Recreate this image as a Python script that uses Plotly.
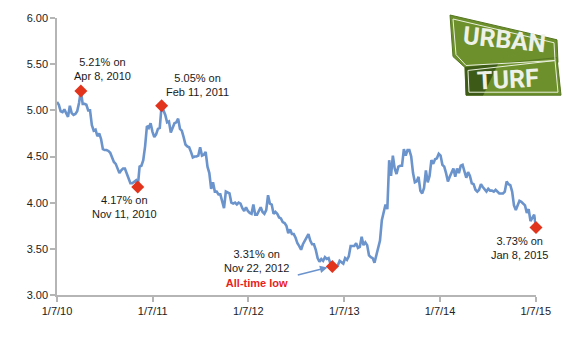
import pandas as pd
import plotly.graph_objects as go

# ---------------- data (weekly 30-year fixed mortgage rate, %) ----------------
start_date = "2010-01-07"
rates_2010 = [5.09, 5.06, 4.99, 4.98, 5.01, 4.97, 4.93, 5.05, 4.97, 4.95, 4.96, 4.99,
              5.08, 5.21, 5.07, 5.07, 5.06, 5.00, 5.00, 4.84, 4.78, 4.79, 4.72, 4.75,
              4.69, 4.58, 4.57, 4.57, 4.56, 4.54, 4.49, 4.44, 4.42, 4.36, 4.32, 4.35,
              4.37, 4.37, 4.32, 4.27, 4.21, 4.21, 4.23, 4.24, 4.17, 4.39, 4.40, 4.46,
              4.61, 4.83, 4.81, 4.86]
rates_2011 = [4.77, 4.71, 4.74, 4.80, 4.81, 5.05, 5.00, 4.95, 4.87, 4.88, 4.76, 4.81,
              4.86, 4.87, 4.91, 4.80, 4.78, 4.71, 4.63, 4.61, 4.60, 4.55, 4.49, 4.50,
              4.50, 4.51, 4.60, 4.51, 4.52, 4.55, 4.39, 4.32, 4.15, 4.22, 4.12, 4.12,
              4.09, 4.09, 4.01, 3.94, 4.12, 4.11, 4.10, 4.00, 3.99, 4.00, 3.98, 4.00,
              3.99, 3.94, 3.91, 3.95]
rates_2012 = [3.91, 3.89, 3.88, 3.98, 3.87, 3.87, 3.92, 3.95, 3.90, 3.88, 3.92, 4.08,
              3.99, 3.98, 3.88, 3.90, 3.88, 3.84, 3.83, 3.79, 3.78, 3.75, 3.67, 3.71,
              3.66, 3.66, 3.62, 3.56, 3.53, 3.49, 3.55, 3.59, 3.62, 3.66, 3.59, 3.55,
              3.55, 3.49, 3.40, 3.36, 3.39, 3.37, 3.41, 3.39, 3.40, 3.34, 3.31, 3.32,
              3.31, 3.32, 3.37, 3.35]
rates_2013 = [3.34, 3.40, 3.38, 3.42, 3.53, 3.53, 3.53, 3.56, 3.51, 3.52, 3.63, 3.54,
              3.57, 3.54, 3.43, 3.41, 3.40, 3.35, 3.42, 3.51, 3.59, 3.81, 3.91, 3.98,
              3.93, 4.46, 4.29, 4.51, 4.37, 4.31, 4.39, 4.40, 4.40, 4.58, 4.51, 4.57,
              4.57, 4.50, 4.32, 4.22, 4.23, 4.28, 4.13, 4.10, 4.16, 4.35, 4.22, 4.29,
              4.46, 4.42, 4.47, 4.48]
rates_2014 = [4.53, 4.51, 4.41, 4.39, 4.32, 4.23, 4.28, 4.33, 4.37, 4.28, 4.37, 4.32,
              4.40, 4.41, 4.34, 4.27, 4.33, 4.29, 4.21, 4.20, 4.14, 4.12, 4.14, 4.20,
              4.17, 4.14, 4.12, 4.15, 4.13, 4.13, 4.12, 4.14, 4.12, 4.10, 4.10, 4.10,
              4.12, 4.23, 4.20, 4.19, 4.12, 3.97, 3.92, 3.98, 4.02, 4.01, 3.99, 3.97,
              3.89, 3.93, 3.80, 3.83]
rates_2015 = [3.87, 3.73]

highlight_dates = ["2010-04-08", "2010-11-11", "2011-02-10", "2012-11-22", "2015-01-08"]
highlight_labels = ["5.21% on<br>Apr 8, 2010",
                    "4.17% on<br>Nov 11, 2010",
                    "5.05% on<br>Feb 11, 2011",
                    "3.31% on<br>Nov 22, 2012<br><b><span style='color:#e8231b'>All-time low</span></b>",
                    "3.73% on<br>Jan 8, 2015"]

tick_dates = ["2010-01-07", "2011-01-07", "2012-01-07", "2013-01-07", "2014-01-07", "2015-01-07"]
tick_labels = ["1/7/10", "1/7/11", "1/7/12", "1/7/13", "1/7/14", "1/7/15"]
y_ticks = [3.0, 3.5, 4.0, 4.5, 5.0, 5.5, 6.0]

rates = rates_2010 + rates_2011 + rates_2012 + rates_2013 + rates_2014 + rates_2015
dates = pd.date_range(start_date, periods=len(rates), freq="7D")
series = pd.Series(rates, index=dates)
hl_x = pd.to_datetime(highlight_dates)
hl_y = [series[d] for d in hl_x]

LINE = "#6b93cc"
RED = "#e2341d"
FONT = "Liberation Sans, Arial, sans-serif"

fig = go.Figure()
fig.add_trace(go.Scatter(x=dates, y=rates, mode="lines",
                         line=dict(color=LINE, width=2.6), hoverinfo="skip"))
fig.add_trace(go.Scatter(x=hl_x, y=hl_y, mode="markers", cliponaxis=False,
                         marker=dict(symbol="diamond", size=10, color=RED,
                                     line=dict(width=0))))

# label placement (pixel offsets from each highlighted point)
label_pos = [  # xshift, yshift, yanchor
    (22, 7, "bottom"),
    (-13, -5, "top"),
    (36, 6, "bottom"),
    (-76, -2, "middle"),
    (-16, -5, "top"),
]
for x, y, txt, (xs, ys, ya) in zip(hl_x, hl_y, highlight_labels, label_pos):
    fig.add_annotation(x=x, y=y, xref="x", yref="y", text=txt, showarrow=False,
                       xshift=xs, yshift=ys, xanchor="center", yanchor=ya,
                       align="center", font=dict(family=FONT, size=11, color="#1a1a1a"))

# arrow pointing to all-time low
fig.add_annotation(x=hl_x[3], y=hl_y[3], xref="x", yref="y", text="",
                   showarrow=True, ax=-36, ay=9, standoff=5,
                   arrowhead=2, arrowsize=1, arrowwidth=1.5, arrowcolor=LINE)

# ---------------- logo (decoration) ----------------
L, R, T, B = 57, 536, 15, 295
def P(px, py):
    return (px - L) / (R - L), (B - py) / (B - T)

def path(pts):
    s = ""
    for i, (px, py) in enumerate(pts):
        x, y = P(px, py)
        s += ("M" if i == 0 else "L") + f"{x:.4f},{y:.4f} "
    return s + "Z"

GREEN = "#6d902c"
DARK = "#3d5b17"
top_sign = [(450, 12), (557, 37), (558, 60), (466, 66), (453, 54)]
low_sign = [(465, 65), (557, 55), (561, 93), (466, 93)]
dark_part = [(465, 65), (498, 61), (483, 93), (466, 93)]
top_inner = [(453, 16), (554, 40), (555, 58), (466, 63), (456, 52)]
low_inner = [(468, 68), (555, 58), (558, 90), (469, 90)]
for pts, fill, lc, lw in [(top_sign, GREEN, "#557522", 1),
                          (low_sign, GREEN, "#557522", 1),
                          (dark_part, DARK, DARK, 0.5),
                          (top_inner, "rgba(0,0,0,0)", "#e9efdc", 1),
                          (low_inner, "rgba(0,0,0,0)", "#e9efdc", 1)]:
    fig.add_shape(type="path", path=path(pts), xref="paper", yref="paper",
                  fillcolor=fill, line=dict(color=lc, width=lw), layer="above")

for txt, (cx, cy), ang in [("URBAN", (504, 37), 6), ("TURF", (508, 77), -3)]:
    x, y = P(cx, cy)
    fig.add_annotation(x=x, y=y, xref="paper", yref="paper", text=f"<b>{txt}</b>",
                       showarrow=False, textangle=ang, xanchor="center", yanchor="middle",
                       font=dict(family="Liberation Sans Narrow, Roboto, Arial, sans-serif",
                                 size=25, color="#eef1e8"))

axis_common = dict(showline=True, linecolor="#b5b5b5", linewidth=1.5, ticks="outside",
                   ticklen=5, tickcolor="#b5b5b5", tickwidth=1.5, showgrid=False,
                   zeroline=False, tickfont=dict(family=FONT, size=11, color="#222"))
fig.update_layout(
    width=575, height=349, autosize=False,
    margin=dict(l=L, r=575 - R, t=T, b=349 - B),
    paper_bgcolor="white", plot_bgcolor="white",
    showlegend=False,
    xaxis=dict(range=[dates[0], dates[-1]], tickvals=pd.to_datetime(tick_dates),
               ticktext=tick_labels, **axis_common),
    yaxis=dict(range=[3, 6], tickvals=y_ticks, tickformat=".2f", ticksuffix="%",
               **axis_common),
)
fig.write_html("out.html")
